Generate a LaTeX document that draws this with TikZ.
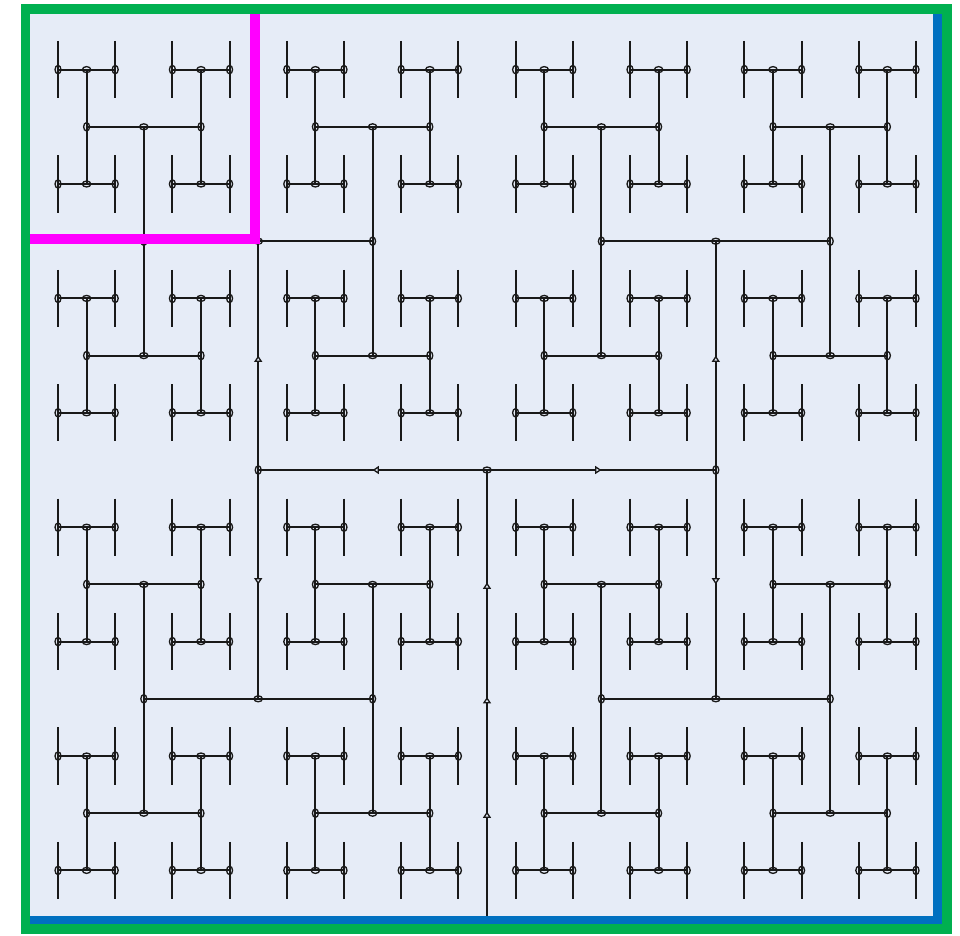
\documentclass[tikz,border=0pt]{standalone}
\usepackage{xcolor}
\usepackage{tikz}
\usetikzlibrary{arrows.meta, decorations.markings}
\definecolor{framegreen}{RGB}{0, 176, 80}
\definecolor{frameblue}{RGB}{0, 112, 192}
\definecolor{cornermagenta}{RGB}{255, 0, 255}
\definecolor{panelblue}{RGB}{230, 236, 247}
\definecolor{wireblack}{RGB}{25, 25, 25}

\tikzset{
    wire/.style={color=wireblack, line width=1.15pt},
    joint/.style={color=wireblack, line width=0.75pt},
    flowtip/.tip={Triangle[length=3.6pt, width=4.6pt, line width=0.75pt, fill=panelblue]},
    flow/.style={wire, postaction={decorate},
        decoration={markings, mark=at position 0.5 with {\arrow{flowtip}}}}
}

\newcommand{\hwire}[3]{%
    \draw[wire] ({#1-#3},#2) -- ({#1+#3},#2);
    \draw[joint] ({#1-#3},#2) ellipse (1.7pt and 2.4pt) ({#1+#3},#2) ellipse (1.7pt and 2.4pt);}
\newcommand{\vwire}[3]{%
    \draw[wire] (#1,{#2-#3}) -- (#1,{#2+#3});
    \draw[joint] (#1,{#2-#3}) ellipse (2.4pt and 1.7pt) (#1,{#2+#3}) ellipse (2.4pt and 1.7pt);}

\begin{document}
\begin{tikzpicture}[x=0.02cm, y=-0.02cm]
    \useasboundingbox (0,0) rectangle (960,936);
    \fill[panelblue] (28,12) rectangle (944,926);

    % smallest H's with their ticks
    \foreach \i in {0,...,7}
        \foreach \j in {0,...,7} {
            \pgfmathsetmacro\hx{86.6+114.4*\i}
            \pgfmathsetmacro\hy{69.6+114.4*\j}
            \draw[wire] ({\hx-28.6},{\hy-28.6}) -- ({\hx-28.6},{\hy+28.6})
                        ({\hx+28.6},{\hy-28.6}) -- ({\hx+28.6},{\hy+28.6});
            \hwire{\hx}{\hy}{28.6}
        }
    \foreach \i in {0,...,7}
        \foreach \j in {0,...,3} {
            \pgfmathsetmacro\hx{86.6+114.4*\i}
            \pgfmathsetmacro\hy{126.8+228.8*\j}
            \vwire{\hx}{\hy}{57.2}
        }
    \foreach \i in {0,...,3}
        \foreach \j in {0,...,3} {
            \pgfmathsetmacro\hx{143.8+228.8*\i}
            \pgfmathsetmacro\hy{126.8+228.8*\j}
            \hwire{\hx}{\hy}{57.2}
        }
    \foreach \i in {0,...,3}
        \foreach \j in {0,...,1} {
            \pgfmathsetmacro\hx{143.8+228.8*\i}
            \pgfmathsetmacro\hy{241.2+457.6*\j}
            \vwire{\hx}{\hy}{114.4}
        }
    \foreach \i in {0,...,1}
        \foreach \j in {0,...,1} {
            \pgfmathsetmacro\hx{258.2+457.6*\i}
            \pgfmathsetmacro\hy{241.2+457.6*\j}
            \hwire{\hx}{\hy}{114.4}
        }

    % main H and trunk
    \coordinate (root) at (487,470);
    \coordinate (base) at (487,916);
    \coordinate (west) at (258.2,470);
    \coordinate (east) at (715.8,470);
    \coordinate (westup) at (258.2,241.2);
    \coordinate (westdown) at (258.2,698.8);
    \coordinate (eastup) at (715.8,241.2);
    \coordinate (eastdown) at (715.8,698.8);
    \draw[flow] (root) -- (west);
    \draw[flow] (root) -- (east);
    \draw[flow] (west) -- (westup);
    \draw[flow] (west) -- (westdown);
    \draw[flow] (east) -- (eastup);
    \draw[flow] (east) -- (eastdown);
    \draw[wire, postaction={decorate}, decoration={markings,
            mark=at position 2.09cm with {\arrow{flowtip}},
            mark=at position 4.38cm with {\arrow{flowtip}},
            mark=at position 6.67cm with {\arrow{flowtip}}}] (base) -- (root);
    \draw[joint] (root) ellipse (2.4pt and 1.7pt)
                 (west) ellipse (1.7pt and 2.4pt) (east) ellipse (1.7pt and 2.4pt)
                 (westup) ellipse (2.4pt and 1.7pt) (westdown) ellipse (2.4pt and 1.7pt)
                 (eastup) ellipse (2.4pt and 1.7pt) (eastdown) ellipse (2.4pt and 1.7pt);

    % frame
    \draw[cornermagenta, line width=0.2cm] (30,239) -- (254.5,239) -- (254.5,14);
    \draw[frameblue, line width=0.18cm] (937.5,12) -- (937.5,920) -- (28,920);
    \draw[framegreen, line width=0.2cm] (25.5,9) rectangle (946.5,929);
\end{tikzpicture}
\end{document}
